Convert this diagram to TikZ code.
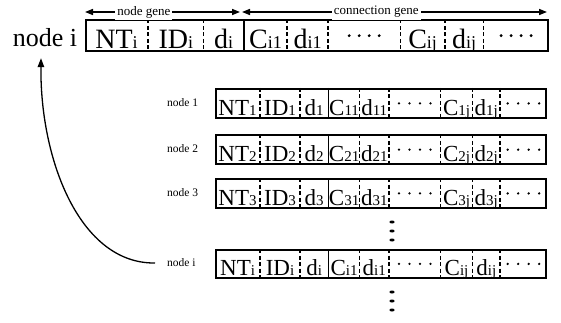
\documentclass[tikz,border=0pt]{standalone}
\usepackage{fontspec}
\setmainfont{Liberation Serif}
\usetikzlibrary{calc,arrows.meta}

% small index set on the baseline
\newcommand\gs[1]{{\fontsize{\subsz}{\subsz}\selectfont #1}}

% one gene string: #1 name, #2/#3 left/right x, #4/#5 top/bottom y,
% #6 main size, #7 index size, #8 node index
\newcommand\generow[8]{%
  \def\subsz{#7}%
  \pgfmathsetmacro\gw{#3-#2}%
  \pgfmathsetmacro\gh{#5-#4}%
  \node[genebox, minimum width=\gw pt, minimum height=\gh pt, anchor=north west] (#1) at (#2,#4) {};
  \foreach \f in {.136,.256,.436,.524,.680,.776,.859}
    \draw[divider] ($(#1.north west)!\f!(#1.north east)$) -- ($(#1.south west)!\f!(#1.south east)$);
  \draw[solidline] ($(#1.north west)!.342!(#1.north east)$) -- ($(#1.south west)!.342!(#1.south east)$);
  \foreach \c/\t [count=\n] in {.068/{NT\gs{#8}}, .196/{ID\gs{#8}}, .299/{d\gs{#8}},
      .389/{C\gs{#81}}, .48/{d\gs{#81}}, .728/{C\gs{#8j}}, .8175/{d\gs{#8j}}}
    \node[celltext, font=\fontsize{#6}{#6}\selectfont] (#1-\n)
      at ($(#1.south west)!\c!(#1.south east)+(0,-\bl)$) {\t};
  \foreach \c in {.602,.9295}
    \foreach \d in {-1.5,-.5,.5,1.5}
      \fill ($(#1.west)!\c!(#1.east)+(\d*\dgap,0)$) circle (\drad);
}

\begin{document}
\begin{tikzpicture}[x=1pt,y=-1pt,
  genebox/.style={draw, line width=1.8pt, inner sep=0pt, rectangle},
  divider/.style={line width=1.5pt, dash pattern=on 4pt off 2.5pt},
  solidline/.style={line width=1.8pt},
  celltext/.style={inner sep=0pt, anchor=base},
  rowlab/.style={inner sep=0pt, anchor=west, font=\fontsize{11.5}{12}\selectfont},
  genelab/.style={fill=white, inner sep=2pt, font=\fontsize{13}{14}\selectfont},
  span/.style={line width=1.5pt, {Triangle[length=8pt,width=6pt]}-{Triangle[length=8pt,width=6pt]}},
  link/.style={line width=1.3pt, -{Triangle[length=9pt,width=6.5pt]}},
]
\useasboundingbox (0,0) rectangle (561,323);

% full chromosome of node i
\def\bl{3.3}\def\drad{1.6}\def\dgap{10}
\generow{top}{85}{547}{19.5}{50}{28}{18}{i}
\node[inner sep=0pt, anchor=base, font=\fontsize{26}{26}\selectfont] (topi) at (45,46.7) {node i};

% gene span arrows
\coordinate (ngL) at (85,12);
\coordinate (ngR) at (240,12);
\coordinate (cgL) at (242,12);
\coordinate (cgR) at (547,12);
\draw[span] (ngL) -- node[genelab, pos=.38] (nglab) {node gene} (ngR);
\draw[span] (cgL) -- node[genelab, pos=.44] (cglab) {connection gene} (cgR);

% population of nodes
\def\bl{3}\def\drad{1.3}\def\dgap{10.5}
\generow{r1}{215}{545}{88}{117}{23}{15}{1}
\generow{r2}{215}{545}{134.5}{163}{23}{15}{2}
\generow{r3}{215}{545}{178}{207}{23}{15}{3}
\generow{ri}{215}{545}{249}{277}{23}{15}{i}

\node[rowlab] (lab1) at (167,103) {node 1};
\node[rowlab] (lab2) at (167,149) {node 2};
\node[rowlab] (lab3) at (167,193) {node 3};
\node[rowlab] (labi) at (167,263) {node i};

% vertical ellipses between rows
\foreach \y in {222,231,240,292,301,310}
  \fill (392,\y) ellipse (2.6 and 1.5);

% node i points back to its chromosome
\draw[link] ($(labi.west)+(-12,0)$) .. controls (80,264) and (40,160) .. ($(topi.south)+(-4,11)$);
\end{tikzpicture}
\end{document}
